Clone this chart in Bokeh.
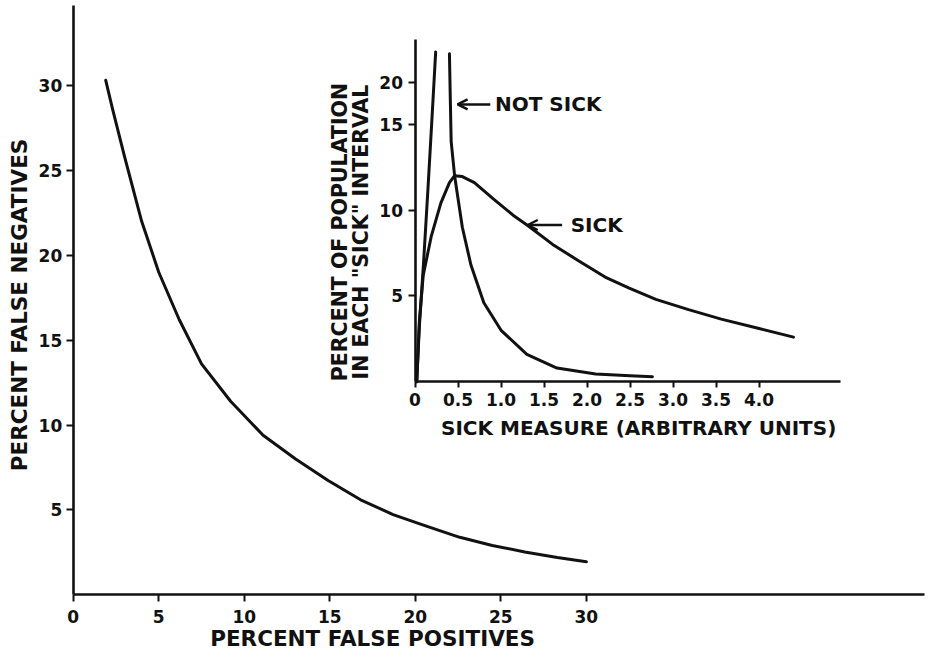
import math
from bokeh.plotting import figure
from bokeh.models import (Range1d, FixedTicker, Label, Arrow, OpenHead, LinearAxis)
from bokeh.embed import file_html
from bokeh.resources import INLINE

# ---------------- data: main trade-off curve ----------------
false_positives = [1.9, 2.3, 3.0, 4.0, 5.0, 6.2, 7.5, 9.2, 11.1, 13.0, 14.9,
                   16.8, 18.7, 20.6, 22.6, 24.5, 26.4, 28.3, 30.0]
false_negatives = [30.3, 28.6, 25.8, 22.0, 19.0, 16.2, 13.6, 11.4, 9.4, 8.0, 6.74,
                   5.6, 4.73, 4.06, 3.39, 2.91, 2.53, 2.2, 1.95]
main_x_ticks = [0, 5, 10, 15, 20, 25, 30]
main_y_ticks = [5, 10, 15, 20, 25, 30]
main_x_title = "PERCENT FALSE POSITIVES"
main_y_title = "PERCENT FALSE NEGATIVES"

# ---------------- data: inset distributions ----------------
not_sick_rise_x = [0.02, 0.05, 0.10, 0.15, 0.20, 0.24]
not_sick_rise_y = [0.0, 3.2, 7.0, 11.2, 15.6, 19.2]
not_sick_fall_x = [0.40, 0.41, 0.42, 0.46, 0.55, 0.65, 0.80, 1.0, 1.3, 1.65, 2.1, 2.5, 2.76]
not_sick_fall_y = [19.1, 16.5, 14.0, 12.0, 9.0, 6.8, 4.6, 3.0, 1.6, 0.8, 0.45, 0.35, 0.3]
sick_x = [0.02, 0.05, 0.095, 0.19, 0.30, 0.40, 0.46, 0.55, 0.69, 0.91, 1.14, 1.31,
          1.6, 1.9, 2.21, 2.49, 2.8, 3.18, 3.56, 4.0, 4.4]
sick_y = [0.0, 3.5, 6.2, 8.5, 10.4, 11.6, 12.0, 11.95, 11.6, 10.65, 9.7, 9.1,
          8.0, 7.05, 6.1, 5.45, 4.8, 4.2, 3.65, 3.1, 2.6]
inset_x_ticks = [0, 0.5, 1.0, 1.5, 2.0, 2.5, 3.0, 3.5, 4.0]
inset_x_labels = ["0", "0.5", "1.0", "1.5", "2.0", "2.5", "3.0", "3.5", "4.0"]
inset_y_ticks = [5, 10, 15, 17.4]
inset_y_labels = ["5", "10", "15", "20"]
inset_x_title = "SICK MEASURE (ARBITRARY UNITS)"
inset_y_title = ["PERCENT OF POPULATION", "IN EACH \"SICK\" INTERVAL"]
not_sick_note = "NOT SICK"
sick_note = "SICK"

# ---------------- layout (pixels of the figure) ----------------
FONT = "DejaVu Sans"
W, H = 925, 651
KX, KY = W / 941, H / 667          # reference picture -> figure scale
INK = "#111111"

# main plot: origin and pixels per unit
M_X0, M_Y0, M_SX, M_SY = 74 * KX, 609 * KY, 17.4 * KX, 17.4 * KY
# inset plot: origin and pixels per unit
I_X0, I_Y0, I_SX, I_SY = 421.7 * KX, 390.7 * KY, 87.5 * KX, 17.6 * KY

p = figure(width=W, height=H,
           x_range=Range1d(-M_X0 / M_SX, (W - M_X0) / M_SX),
           y_range=Range1d(-(H - M_Y0) / M_SY, M_Y0 / M_SY),
           output_backend="svg", toolbar_location=None,
           x_axis_location=None, y_axis_location=None,
           min_border=0, min_border_left=0, min_border_right=0,
           min_border_top=0, min_border_bottom=0)
p.grid.visible = False
p.outline_line_color = None
p.extra_x_ranges = {"ix": Range1d(-I_X0 / I_SX, (W - I_X0) / I_SX)}
p.extra_y_ranges = {"iy": Range1d(-(H - I_Y0) / I_SY, I_Y0 / I_SY)}


def make_axis(kind, ticks, labels, bounds, tick_out, standoff, rx="default", ry="default"):
    ax = LinearAxis(x_range_name=rx, y_range_name=ry, fixed_location=0, bounds=bounds,
                    ticker=FixedTicker(ticks=ticks))
    if labels:
        ax.major_label_overrides = {t: l for t, l in zip(ticks, labels)}
    ax.axis_line_color = INK
    ax.axis_line_width = 2.6
    ax.major_tick_line_color = INK
    ax.major_tick_line_width = 2
    ax.major_tick_in = 0
    ax.major_tick_out = tick_out
    ax.minor_tick_line_color = None
    ax.major_label_standoff = standoff
    ax.major_label_text_font = FONT
    ax.major_label_text_font_style = "bold"
    ax.major_label_text_font_size = "17px"
    ax.major_label_text_color = INK
    p.add_layout(ax, kind)
    return ax


# main axes
make_axis("below", main_x_ticks, None, (0, (W - 1 - M_X0) / M_SX), 7, 8)
make_axis("left", main_y_ticks, None, (0, (M_Y0 - 5 * KY) / M_SY), 7, 4)
# inset axes
make_axis("below", inset_x_ticks, inset_x_labels, (0, 4.95), 6, 5, rx="ix", ry="iy")
make_axis("left", inset_y_ticks, inset_y_labels, (0, 19.94), 7, 5, rx="ix", ry="iy")


def text_label(x, y, txt, size="20px", angle=0.0, align="center", rx="default", ry="default"):
    p.add_layout(Label(x=x, y=y, text=txt, angle=angle, text_align=align,
                       x_range_name=rx, y_range_name=ry,
                       text_baseline="middle", text_font=FONT, text_font_style="bold",
                       text_font_size=size, text_color=INK))


# main curve and titles
p.line(false_positives, false_negatives, line_width=3, line_color=INK,
       line_cap="round", line_join="round")
text_label(17.5, -2.55, main_x_title, size="21.5px")
text_label(-3.15, 17.07, main_y_title, size="21.5px", angle=math.pi / 2)

# inset curves
for xs, ys in ((not_sick_rise_x, not_sick_rise_y), (not_sick_fall_x, not_sick_fall_y),
               (sick_x, sick_y)):
    p.line(xs, ys, line_width=3, line_color=INK, line_cap="round", line_join="round",
           x_range_name="ix", y_range_name="iy")

text_label(2.60, -2.69, inset_x_title, rx="ix", ry="iy")
text_label(-0.87, 8.72, inset_y_title[0], size="20.5px", angle=math.pi / 2, rx="ix", ry="iy")
text_label(-0.625, 8.72, inset_y_title[1], size="20.5px", angle=math.pi / 2, rx="ix", ry="iy")

p.add_layout(Arrow(x_start=0.875, y_start=16.15, x_end=0.495, y_end=16.15,
                   x_range_name="ix", y_range_name="iy",
                   line_width=2.5, line_color=INK,
                   end=OpenHead(size=10, line_width=2.5, line_color=INK)))
text_label(0.93, 16.15, not_sick_note, size="20px", align="left", rx="ix", ry="iy")
p.add_layout(Arrow(x_start=1.71, y_start=9.13, x_end=1.31, y_end=9.13,
                   x_range_name="ix", y_range_name="iy",
                   line_width=2.5, line_color=INK,
                   end=OpenHead(size=10, line_width=2.5, line_color=INK)))
text_label(1.81, 9.13, sick_note, size="20px", align="left", rx="ix", ry="iy")

with open("out.html", "w") as f:
    f.write(file_html(p, INLINE))
